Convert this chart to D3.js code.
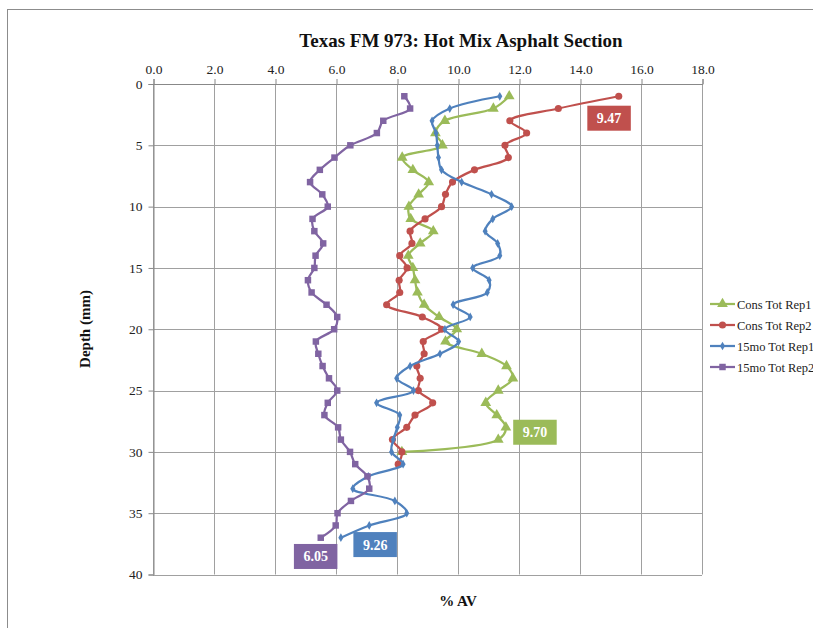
<!DOCTYPE html>
<html>
<head>
<meta charset="utf-8">
<script src="https://cdn.jsdelivr.net/npm/d3@7"></script>
<style>
  html, body { margin: 0; padding: 0; background: #fff; }
  svg { display: block; }
  text { font-family: "Liberation Serif", "Times New Roman", serif; }
</style>
</head>
<body>
<svg id="chart" width="813" height="628"></svg>
<script>
// Air voids (% AV) by depth (mm) for four cores
const seriesNames = ["Cons Tot Rep1", "Cons Tot Rep2", "15mo Tot Rep1", "15mo Tot Rep2"];
const seriesColors = ["#9BBB59", "#C0504D", "#4F81BD", "#8064A2"];
const seriesMarkers = ["triangle", "circle", "diamond", "square"];

const consRep1 = [11.68, 11.16, 9.57, 9.26, 9.49, 8.17, 8.52, 9.04, 8.71, 8.39,
                  8.45, 9.19, 8.76, 8.37, 8.52, 8.59, 8.67, 8.89, 9.38, 9.96,
                  9.59, 10.78, 11.59, 11.80, 11.32, 10.91, 11.27, 11.57, 11.32, 8.16];
const consRep2 = [15.27, 13.29, 11.70, 12.25, 11.54, 11.65, 10.54, 9.82, 9.59, 9.46,
                  8.92, 8.43, 8.49, 8.09, 8.33, 8.07, 8.09, 7.66, 8.83, 9.46,
                  8.86, 8.89, 8.65, 8.76, 8.70, 9.17, 8.59, 8.32, 7.85, 8.16, 8.04];
const mo15Rep1 = [11.37, 9.73, 9.15, 9.28, 9.32, 9.36, 9.46, 10.12, 11.10, 11.76,
                  11.14, 10.89, 11.30, 11.37, 10.48, 11.02, 10.96, 9.84, 10.40, 9.57,
                  10.02, 9.41, 8.43, 7.99, 8.54, 7.33, 8.09, 8.01, 7.88, 7.82,
                  8.20, 7.06, 6.55, 7.93, 8.32, 7.09, 6.16];
const mo15Rep2 = [8.24, 8.43, 7.55, 7.34, 6.47, 5.95, 5.47, 5.15, 5.55, 5.73,
                  5.23, 5.29, 5.58, 5.33, 5.29, 5.08, 5.20, 5.69, 6.04, 5.94,
                  5.34, 5.42, 5.56, 5.77, 6.04, 5.73, 5.62, 6.07, 6.16, 6.46,
                  6.63, 7.03, 7.09, 6.49, 6.05, 5.99, 5.50];

// Average AV per core, shown in the callout boxes
const averageAV = [9.70, 9.47, 9.26, 6.05];

const xTicks = [0, 2, 4, 6, 8, 10, 12, 14, 16, 18];
const yTicks = [0, 5, 10, 15, 20, 25, 30, 35, 40];

const seriesValues = [consRep1, consRep2, mo15Rep1, mo15Rep2];
// depth of each reading: 1 mm, 2 mm, ...
const series = seriesValues.map((vals, i) => ({
  name: seriesNames[i], color: seriesColors[i], marker: seriesMarkers[i],
  avg: averageAV[i],
  points: vals.map((v, k) => ({ av: v, depth: k + 1 }))
}));

const serif = "'Liberation Serif', 'Times New Roman', serif";
const svg = d3.select("#chart");
const W = 813, H = 628;
const plot = { left: 153, right: 702, top: 84, bottom: 574.5 };

// outer frame (top and left edges)
svg.append("line").attr("x1", 7).attr("x2", W).attr("y1", 9.5).attr("y2", 9.5)
  .attr("stroke", "#8c8c8c").attr("stroke-width", 1);
svg.append("line").attr("x1", 7.5).attr("x2", 7.5).attr("y1", 9).attr("y2", H)
  .attr("stroke", "#8c8c8c").attr("stroke-width", 1);

const x = d3.scaleLinear().domain([0, 18]).range([plot.left, plot.right]);
const y = d3.scaleLinear().domain([0, 40]).range([plot.top, plot.bottom]);

// grid
const grid = svg.append("g");
grid.selectAll(".vg").data(xTicks).join("line")
  .attr("x1", d => Math.round(x(d)) + 0.5).attr("x2", d => Math.round(x(d)) + 0.5)
  .attr("y1", plot.top).attr("y2", plot.bottom)
  .attr("stroke", "#a0a0a0").attr("stroke-width", 1);
grid.selectAll(".hg").data(yTicks).join("line")
  .attr("x1", plot.left).attr("x2", plot.right)
  .attr("y1", d => Math.round(y(d)) + 0.5).attr("y2", d => Math.round(y(d)) + 0.5)
  .attr("stroke", "#a0a0a0").attr("stroke-width", 1);

// top axis (AV)
const xAxis = d3.axisTop(x).tickValues(xTicks).tickFormat(d3.format(".1f")).tickSize(5).tickPadding(5);
const gx = svg.append("g").attr("transform", `translate(0.5,${plot.top})`).call(xAxis)
  .attr("font-family", null);
gx.select(".domain").attr("stroke", "#888");
gx.selectAll(".tick line").attr("stroke", "#888");
gx.selectAll("text").attr("font-size", 13.5).attr("fill", "#222").style("font-family", serif);

// left axis (depth)
const yAxis = d3.axisLeft(y).tickValues(yTicks).tickFormat(d3.format("d")).tickSize(5).tickPadding(6);
const gy = svg.append("g").attr("transform", `translate(${plot.left + 0.5},0)`).call(yAxis)
  .attr("font-family", null);
gy.select(".domain").attr("stroke", "#888");
gy.selectAll(".tick line").attr("stroke", "#888");
gy.selectAll("text").attr("font-size", 13.5).attr("fill", "#222").style("font-family", serif);

// title and axis titles
svg.append("text").attr("x", 461).attr("y", 47).attr("text-anchor", "middle")
  .attr("font-size", 19).attr("font-weight", "bold").attr("fill", "#111")
  .text("Texas FM 973: Hot Mix Asphalt Section");
svg.append("text").attr("x", 458).attr("y", 606).attr("text-anchor", "middle")
  .attr("font-size", 15).attr("font-weight", "bold").attr("fill", "#111")
  .text("% AV");
svg.append("text").attr("transform", "translate(90,329) rotate(-90)")
  .attr("text-anchor", "middle")
  .attr("font-size", 15).attr("font-weight", "bold").attr("fill", "#111")
  .text("Depth (mm)");

// marker shapes
const symbolOf = {
  triangle: d3.symbol().type(d3.symbolTriangle).size(50),
  circle: d3.symbol().type(d3.symbolCircle).size(40),
  diamond: d3.symbol().type(d3.symbolDiamond).size(22),
  square: d3.symbol().type(d3.symbolSquare).size(42)
};

const line = d3.line()
  .x(d => x(d.av)).y(d => y(d.depth))
  .curve(d3.curveCatmullRom.alpha(0.5));

const gSeries = svg.append("g");
series.forEach(s => {
  const g = gSeries.append("g");
  g.append("path").datum(s.points).attr("d", line)
    .attr("fill", "none").attr("stroke", s.color).attr("stroke-width", 2.25)
    .attr("stroke-linejoin", "round");
  g.selectAll("path.m").data(s.points).join("path").attr("class", "m")
    .attr("d", symbolOf[s.marker]())
    .attr("transform", d => `translate(${x(d.av)},${y(d.depth)})`)
    .attr("fill", s.color);
});

// average callouts: [av of box left edge, depth of box top]
const calloutAt = [[11.81, 27.38], [14.24, 1.77], [6.57, 36.54], [4.62, 37.51]];
const boxW = 43.5, boxH = 25;
series.forEach((s, i) => {
  const bx = x(calloutAt[i][0]), by = y(calloutAt[i][1]);
  svg.append("rect").attr("x", bx).attr("y", by).attr("width", boxW).attr("height", boxH)
    .attr("fill", s.color);
  svg.append("text").attr("x", bx + boxW / 2).attr("y", by + boxH / 2 + 5)
    .attr("text-anchor", "middle").attr("font-size", 14).attr("font-weight", "bold")
    .attr("fill", "#fff").text(d3.format(".2f")(s.avg));
});

// legend
const legend = svg.append("g").attr("transform", "translate(710,304)");
series.forEach((s, i) => {
  const ly = i * 21;
  legend.append("line").attr("x1", 0).attr("x2", 25).attr("y1", ly).attr("y2", ly)
    .attr("stroke", s.color).attr("stroke-width", 2.25);
  legend.append("path").attr("d", symbolOf[s.marker]())
    .attr("transform", `translate(12.5,${ly})`).attr("fill", s.color);
  legend.append("text").attr("x", 27).attr("y", ly + 4.5)
    .attr("font-size", 12.5).attr("fill", "#222").text(s.name);
});
</script>
</body>
</html>
